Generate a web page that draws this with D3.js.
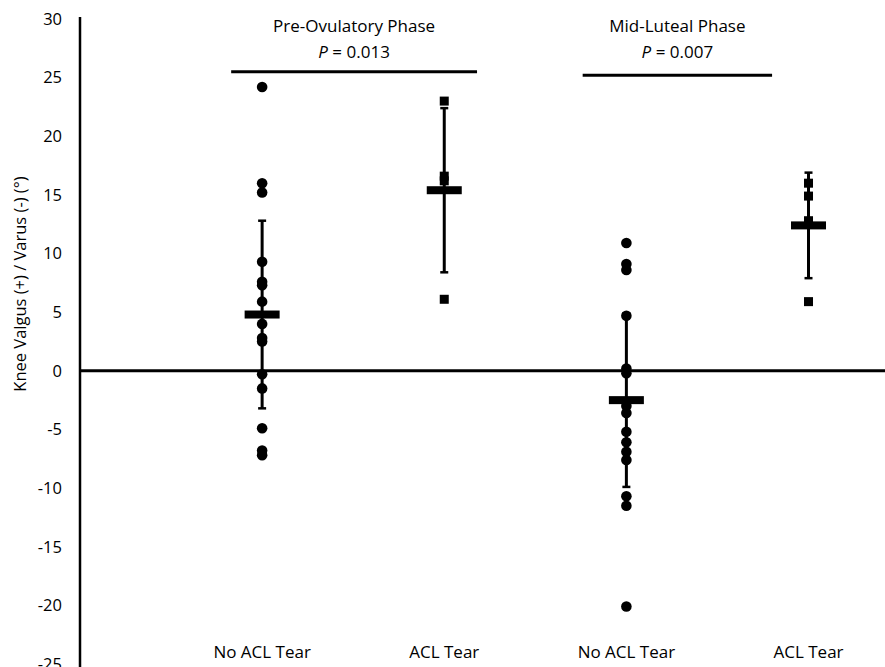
<!DOCTYPE html>
<html>
<head>
<meta charset="utf-8">
<script src="https://cdn.jsdelivr.net/npm/d3@7"></script>
<style>
    body { margin: 0; background: #fff; }
    text { font-family: "Open Sans", sans-serif; fill: #000; }
</style>
</head>
<body>
<script>
// categories along the bottom
var categories = ["No ACL Tear", "ACL Tear", "No ACL Tear", "ACL Tear"];

// individual values (degrees)
var preNoTear = [24.2, 16.0, 15.2, 9.3, 7.6, 7.3, 5.9, 4.0, 2.8, 2.5, -0.3, -1.5, -4.9, -6.8, -7.2];
var preTear = [23.0, 16.6, 16.2, 6.1];
var midNoTear = [10.9, 9.1, 8.6, 4.7, 0.2, -0.2, -3.0, -3.6, -5.2, -6.1, -6.9, -7.6, -10.7, -11.5, -20.1];
var midTear = [16.0, 14.9, 12.8, 5.9];

// group means and standard deviations
var means = [4.8, 15.4, -2.5, 12.4];
var sds = [8.0, 7.0, 7.4, 4.5];

// y ticks
var yTicks = [30, 25, 20, 15, 10, 5, 0, -5, -10, -15, -20, -25];

// phase labels and p values
var phases = ["Pre-Ovulatory Phase", "Mid-Luteal Phase"];
var pValues = ["0.013", "0.007"];

function init() {
    var width = 885, height = 667;

    var svg = d3.select("body").append("svg")
        .attr("width", width)
        .attr("height", height);

    //scales: x in category units, axis at 0
    var xScale = d3.scaleLinear().domain([0, 4.42]).range([80, 885]);
    var yScale = d3.scaleLinear().domain([-25, 30]).range([664, 19]);

    var groups = [
        { values: preNoTear, shape: "circle" },
        { values: preTear, shape: "square" },
        { values: midNoTear, shape: "circle" },
        { values: midTear, shape: "square" }
    ];

    //y axis tick labels (plain hyphen like the original)
    var yAxis = d3.axisLeft(yScale)
        .tickValues(yTicks)
        .tickFormat(function (d) { return String(d); })
        .tickSize(0)
        .tickPadding(18);

    var yg = svg.append("g")
        .attr("transform", "translate(" + xScale(0) + ",0)")
        .call(yAxis);
    yg.select(".domain").remove();
    yg.selectAll("text")
        .style("font-size", "16.5px")
        .style("font-family", "'Open Sans', sans-serif")
        .attr("fill", "#000");

    //vertical axis line
    svg.append("line")
        .attr("x1", xScale(0)).attr("x2", xScale(0))
        .attr("y1", 17).attr("y2", height)
        .attr("stroke", "#000")
        .attr("stroke-width", 2.5);

    //zero line
    svg.append("line")
        .attr("x1", xScale(0)).attr("x2", width)
        .attr("y1", yScale(0)).attr("y2", yScale(0))
        .attr("stroke", "#000")
        .attr("stroke-width", 3);

    //y axis title
    svg.append("text")
        .attr("transform", "translate(22," + yScale(7.4) + ") rotate(-90)")
        .attr("text-anchor", "middle")
        .attr("dominant-baseline", "middle")
        .style("font-size", "16.5px")
        .text("Knee Valgus (+) / Varus (-) (°)");

    //category labels
    svg.selectAll(".cat")
        .data(categories)
        .enter().append("text")
        .attr("class", "cat")
        .attr("x", function (d, i) { return xScale(i + 1); })
        .attr("y", 658)
        .attr("text-anchor", "middle")
        .style("font-size", "17px")
        .text(function (d) { return d; });

    //error bars, means and points per group
    groups.forEach(function (g, i) {
        var cx = xScale(i + 1);
        var gg = svg.append("g");
        var top = yScale(means[i] + sds[i]);
        var bot = yScale(means[i] - sds[i]);

        gg.append("line")
            .attr("x1", cx).attr("x2", cx)
            .attr("y1", top).attr("y2", bot)
            .attr("stroke", "#000").attr("stroke-width", 3);

        [top, bot].forEach(function (y) {
            gg.append("line")
                .attr("x1", cx - 4).attr("x2", cx + 4)
                .attr("y1", y).attr("y2", y)
                .attr("stroke", "#000").attr("stroke-width", 2.5);
        });

        if (g.shape === "circle") {
            gg.selectAll("circle")
                .data(g.values)
                .enter().append("circle")
                .attr("cx", cx)
                .attr("cy", function (d) { return yScale(d); })
                .attr("r", 5.3)
                .attr("fill", "#000");
        } else {
            gg.selectAll("rect.pt")
                .data(g.values)
                .enter().append("rect")
                .attr("class", "pt")
                .attr("x", cx - 4.5)
                .attr("y", function (d) { return yScale(d) - 4.5; })
                .attr("width", 9)
                .attr("height", 9)
                .attr("fill", "#000");
        }

        //mean bar
        gg.append("rect")
            .attr("x", cx - 17.5)
            .attr("y", yScale(means[i]) - 4)
            .attr("width", 35)
            .attr("height", 8)
            .attr("fill", "#000");
    });

    //significance lines and titles, in category units
    var sig = [
        { x1: 0.83, x2: 2.18, y: 25.5 },
        { x1: 2.76, x2: 3.80, y: 25.2 }
    ];

    sig.forEach(function (s, i) {
        var mid = xScale((s.x1 + s.x2) / 2);
        svg.append("line")
            .attr("x1", xScale(s.x1)).attr("x2", xScale(s.x2))
            .attr("y1", yScale(s.y)).attr("y2", yScale(s.y))
            .attr("stroke", "#000").attr("stroke-width", 3);

        svg.append("text")
            .attr("x", mid)
            .attr("y", 32)
            .attr("text-anchor", "middle")
            .style("font-size", "17px")
            .text(phases[i]);

        var t = svg.append("text")
            .attr("x", mid)
            .attr("y", 58)
            .attr("text-anchor", "middle")
            .style("font-size", "17px");
        t.append("tspan").style("font-style", "italic").text("P");
        t.append("tspan").text(" = " + pValues[i]);
    });
}

window.onload = init;
</script>
</body>
</html>
